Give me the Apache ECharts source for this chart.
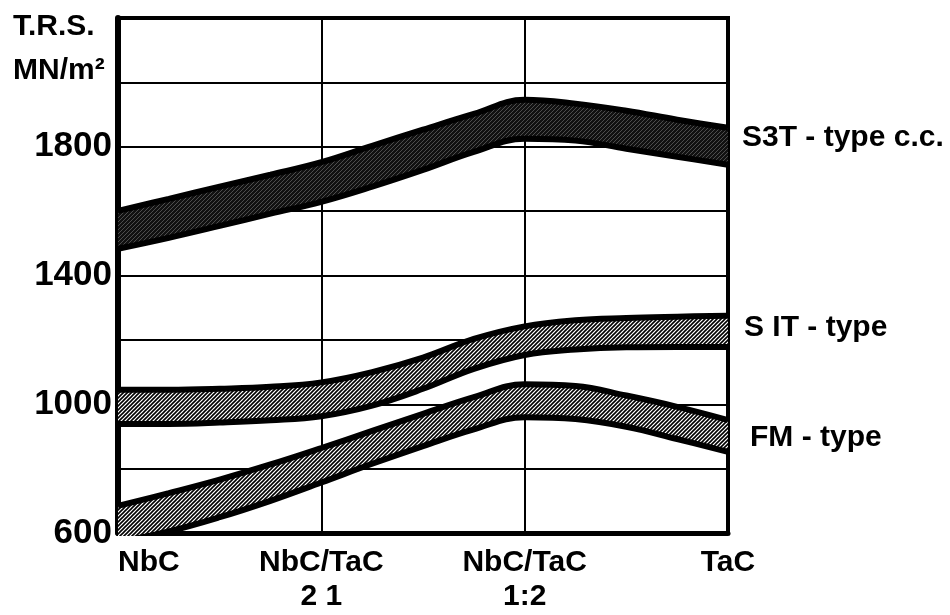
<!DOCTYPE html>
<html>
<head>
<meta charset="utf-8">
<script src="https://cdn.jsdelivr.net/npm/echarts@6/dist/echarts.min.js"></script>
<style>
  html, body { margin: 0; padding: 0; background: #fff; }
  #main { width: 950px; height: 615px; }
</style>
</head>
<body>
<div id="main"></div>
<script>
  // composition steps along the x axis (0 = NbC ... 3 = TaC)
  const xPos = [0, 0.25, 0.5, 0.75, 1, 1.25, 1.5, 1.75, 2, 2.25, 2.5, 2.75, 3];
  const xCategories = ["NbC", "NbC/TaC\n2 1", "NbC/TaC\n1:2", "TaC"];
  const yTickLabels = [600, 1000, 1400, 1800];

  // band edges, T.R.S. in MN/m2
  const s3tLow  = [1483, 1517, 1554, 1592, 1629, 1676, 1728, 1784, 1825, 1819, 1794, 1769, 1744];
  const s3tHigh = [1601, 1638, 1676, 1713, 1752, 1803, 1853, 1902, 1946, 1934, 1912, 1884, 1859];
  const sitLow  = [939, 939, 943, 950, 963, 996, 1048, 1110, 1153, 1170, 1177, 1178, 1178];
  const sitHigh = [1045, 1045, 1048, 1054, 1068, 1100, 1145, 1203, 1242, 1261, 1268, 1272, 1275];
  const fmLow   = [572, 605, 649, 700, 757, 815, 870, 922, 960, 954, 930, 892, 852];
  const fmHigh  = [684, 724, 766, 813, 864, 917, 970, 1022, 1062, 1057, 1027, 992, 951];

  // hatch patterns
  function hatch(dark) {
    const c = document.createElement('canvas');
    c.width = 4; c.height = 4;
    const g = c.getContext('2d');
    g.fillStyle = dark ? '#111' : '#fff';
    g.fillRect(0, 0, 4, 4);
    g.strokeStyle = dark ? '#777' : '#000';
    g.lineWidth = dark ? 0.6 : 1.6;
    g.beginPath();
    g.moveTo(-1, 5); g.lineTo(5, -1);
    g.moveTo(-1, 1); g.lineTo(1, -1);
    g.moveTo(3, 5); g.lineTo(5, 3);
    g.stroke();
    return c;
  }
  const hatchLight = hatch(false);
  const hatchDark = hatch(true);

  function diff(hi, lo) { return hi.map((v, i) => v - lo[i]); }

  function band(name, lo, hi, pattern) {
    const edge = { color: '#000', width: 6 };
    return [
      {
        name: name + ' low', type: 'line', stack: name, data: lo,
        smooth: 0.4, symbol: 'none', lineStyle: edge, z: 3
      },
      {
        name: name, type: 'line', stack: name, data: diff(hi, lo),
        smooth: 0.4, symbol: 'none', lineStyle: edge, z: 3,
        areaStyle: { color: { image: pattern, repeat: 'repeat' }, opacity: 1 }
      }
    ];
  }

  const lblFont = { fontFamily: 'Liberation Sans', fontWeight: 'bold', fontSize: 30, fill: '#000' };
  const onTick = i => i % 4 === 0;

  var myChart = echarts.init(document.getElementById('main'));
  myChart.setOption({
    animation: false,
    backgroundColor: '#fff',
    grid: {
      left: 118, right: 222, top: 18, bottom: 82,
      show: true, borderColor: '#000', borderWidth: 4
    },
    xAxis: {
      type: 'category', boundaryGap: false,
      data: xPos.map(x => Number.isInteger(x) ? xCategories[x] : ''),
      axisLine: { lineStyle: { color: '#000', width: 5 } },
      axisTick: { show: false },
      splitLine: { show: true, interval: onTick, lineStyle: { color: '#000', width: 2 } },
      axisLabel: {
        interval: 0, margin: 13,
        color: '#000', fontFamily: 'Liberation Sans', fontWeight: 'bold', fontSize: 30,
        lineHeight: 34,
        alignMinLabel: 'left'
      }
    },
    yAxis: {
      type: 'value', min: 600, max: 2200, interval: 200,
      axisLine: { show: true, lineStyle: { color: '#000', width: 6 } },
      axisTick: { show: false },
      splitLine: { show: true, lineStyle: { color: '#000', width: 2 } },
      axisLabel: {
        margin: 6,
        color: '#000', fontFamily: 'Liberation Sans', fontWeight: 'bold', fontSize: 35,
        formatter: v => yTickLabels.includes(v) ? String(v) : ''
      }
    },
    series: [].concat(
      band('S3T', s3tLow, s3tHigh, hatchDark),
      band('SIT', sitLow, sitHigh, hatchLight),
      band('FM', fmLow, fmHigh, hatchLight)
    ),
    graphic: [
      { type: 'text', left: 13, top: 12, style: Object.assign({ text: 'T.R.S.' }, lblFont) },
      { type: 'text', left: 13, top: 56, style: Object.assign({ text: 'MN/m²' }, lblFont) },
      { type: 'text', left: 742, top: 123, style: Object.assign({ text: 'S3T - type c.c.' }, lblFont) },
      { type: 'text', left: 744, top: 313, style: Object.assign({ text: 'S IT - type' }, lblFont) },
      { type: 'text', left: 750, top: 423, style: Object.assign({ text: 'FM - type' }, lblFont) }
    ]
  });
</script>
</body>
</html>
